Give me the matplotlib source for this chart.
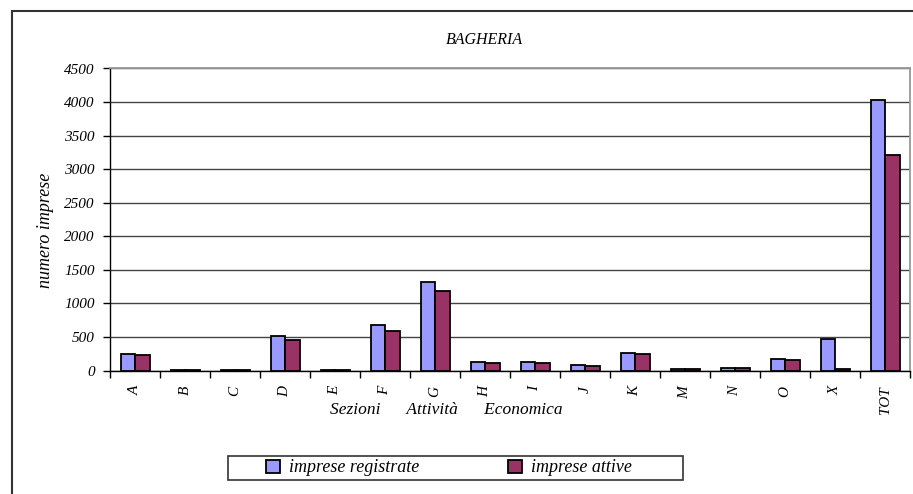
import numpy as np
import matplotlib
matplotlib.use("Agg")
import matplotlib.pyplot as plt
from matplotlib.patches import Rectangle, Patch

# valori
sezioni = ["A", "B", "C", "D", "E", "F", "G", "H", "I", "J", "K", "M", "N", "O", "X", "TOT"]
registrate = [245, 10, 5, 520, 5, 675, 1315, 122, 120, 78, 258, 22, 38, 168, 470, 4025]
attive = [232, 8, 4, 452, 4, 590, 1185, 105, 108, 68, 242, 20, 33, 162, 25, 3215]
yticks = [0, 500, 1000, 1500, 2000, 2500, 3000, 3500, 4000, 4500]

W, H = 913, 494
fig = plt.figure(figsize=(W / 100, H / 100), dpi=100)
fig.patch.set_facecolor("white")

font = dict(family="Liberation Serif", style="italic")

# bordo esterno dell'oggetto grafico
fig.patches.append(Rectangle((12 / W, -0.1), 1.2, 1.1 - 11 / H, transform=fig.transFigure,
                             fill=False, edgecolor="#333333", linewidth=1.5))

ax = fig.add_axes([110 / W, 1 - 370.5 / H, 800 / W, 302 / H])

x = np.arange(len(sezioni))
bw = 0.29
ax.bar(x - bw / 2, registrate, bw, color="#9999FF", edgecolor="black", linewidth=1.3,
       label="imprese registrate", zorder=3)
ax.bar(x + bw / 2, attive, bw, color="#993366", edgecolor="black", linewidth=1.3,
       label="imprese attive", zorder=3)

ax.set_xlim(-0.5, len(sezioni) - 0.5)
ax.set_ylim(0, 4500)

ax.set_yticks(yticks)
ax.set_yticklabels([str(v) for v in yticks], fontsize=11, **font)
ax.tick_params(axis="y", direction="out", length=5, width=1, pad=6, colors="black")

# tacche tra le categorie, etichette al centro
ax.set_xticks(np.arange(len(sezioni) + 1) - 0.5)
ax.set_xticklabels([])
ax.tick_params(axis="x", which="major", direction="out", length=5, width=1)
ax.set_xticks(x, minor=True)
ax.set_xticklabels(sezioni, minor=True, rotation=90, fontsize=11, va="top", **font)
ax.tick_params(axis="x", which="minor", length=0, pad=11)

ax.grid(axis="y", color="#444444", linewidth=1, zorder=0)
ax.set_axisbelow(True)

for s in ["top", "right"]:
    ax.spines[s].set_color("#999999")
    ax.spines[s].set_linewidth(1.3)
for s in ["left", "bottom"]:
    ax.spines[s].set_color("black")
    ax.spines[s].set_linewidth(1)

fig.text(484 / W, 1 - 40 / H, "BAGHERIA", ha="center", va="center", fontsize=11.5, **font)
fig.text(46 / W, 1 - 230 / H, "numero imprese", rotation=90, ha="center", va="center",
         fontsize=13, **font)
fig.text(446.5 / W, 1 - 410 / H, "Sezioni      Attività      Economica", ha="center",
         va="center", fontsize=12.5, **font)

# riquadro della legenda
fig.patches.append(Rectangle((228 / W, 1 - 480 / H), 455 / W, 24 / H, transform=fig.transFigure,
                             fill=False, edgecolor="#333333", linewidth=1.2))
handles = [Patch(facecolor="#9999FF", edgecolor="black", linewidth=1.3),
           Patch(facecolor="#993366", edgecolor="black", linewidth=1.3)]
fig.legend(handles, ["imprese registrate", "imprese attive"], ncol=2,
           loc="center", bbox_to_anchor=(449 / W, 1 - 468 / H),
           prop=dict(family="Liberation Serif", style="italic", size=13),
           frameon=False, handlelength=0.75, handleheight=0.75, handletextpad=0.5,
           columnspacing=4.95, borderpad=0.2)

fig.savefig("out.png", dpi=100)
